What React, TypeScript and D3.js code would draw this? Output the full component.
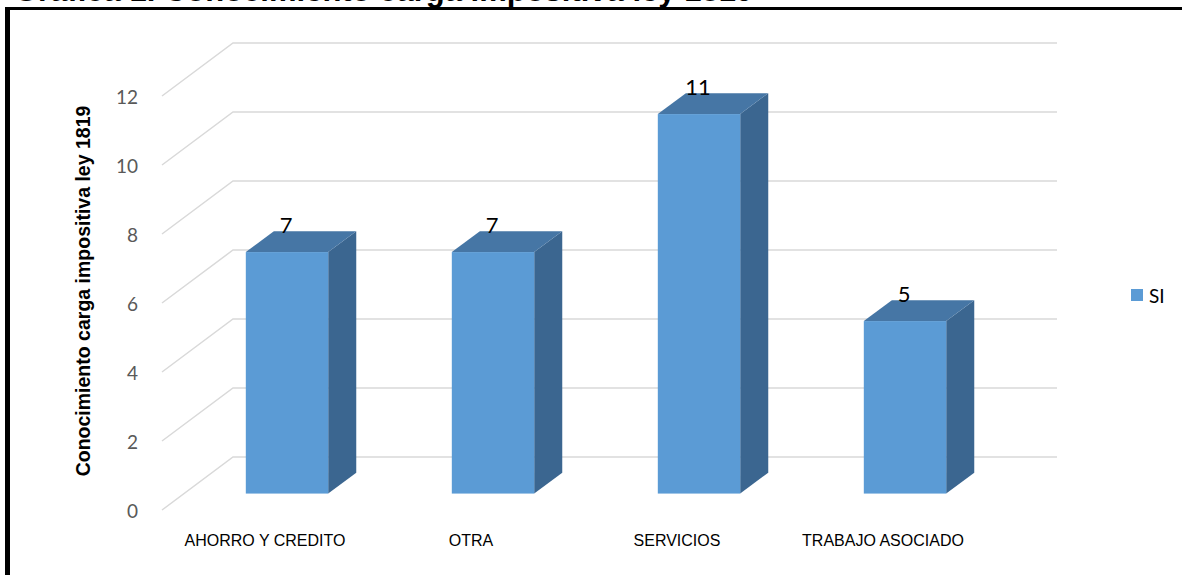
import React from "react";
import * as d3 from "d3";

const categories = ["AHORRO Y CREDITO", "OTRA", "SERVICIOS", "TRABAJO ASOCIADO"];
const siValues = [7, 7, 11, 5];
const yTicks = [0, 2, 4, 6, 8, 10, 12];
const seriesName = "SI";
const yTitle = "Conocimiento carga impositiva ley 1819";
const chartTitle = "Gráfica 1. Conocimiento carga impositiva ley 1819";

const W = 1182;
const H = 575;
const DX = 71;
const DY = -53;
const F1 = 0.31;
const F2 = 0.705;

export default function App() {
  const x = d3
    .scaleBand<string>()
    .domain(categories)
    .range([162, 986])
    .paddingInner(0.6)
    .paddingOuter(0.3);
  const y = d3.scaleLinear().domain([0, 12]).range([510, 96]);
  const bw = x.bandwidth();
  const p = (xx: number, v: number, f: number): [number, number] => [xx + f * DX, y(v) + f * DY];
  const line = d3.line<[number, number]>();
  const x0 = x.range()[0];
  const x1 = x.range()[1];

  return (
    <svg
      width={W}
      height={H}
      style={{ position: "absolute", left: 0, top: 0, background: "#fff" }}
    >
      <rect x={0} y={0} width={W} height={H} fill="#fff" />
      <text
        x={14}
        y={0.5}
        fontFamily="Arial, 'Liberation Sans', sans-serif"
        fontWeight="bold"
        fontSize={31}
        fill="#000"
      >
        {chartTitle}
      </text>
      {/* frame */}
      <rect x={5} y={7} width={5} height={H} fill="#000" />
      <rect x={5} y={7} width={W} height={3} fill="#000" />

      {/* gridlines */}
      {yTicks.map((t) => (
        <path
          key={"g" + t}
          d={line([p(x0, t, 0), p(x0, t, 1), p(x1, t, 1)]) || ""}
          fill="none"
          stroke="#d9d9d9"
          strokeWidth={1.5}
        />
      ))}
      {/* tick labels */}
      {yTicks.map((t) => (
        <text
          key={"t" + t}
          x={138}
          y={y(t)}
          textAnchor="end"
          dominantBaseline="central"
          fontFamily="Lato, 'Open Sans', sans-serif"
          fontSize={19}
          fill="#595959"
        >
          {t}
        </text>
      ))}

      {/* bars */}
      {categories.map((c, i) => {
        const v = siValues[i];
        const bx = x(c)!;
        const [fx, fTop] = p(bx, v, F1);
        const [, fBot] = p(bx, 0, F1);
        const d = F2 - F1;
        const top: [number, number][] = [
          [fx, fTop],
          [fx + bw, fTop],
          [fx + bw + d * DX, fTop + d * DY],
          [fx + d * DX, fTop + d * DY],
        ];
        const side: [number, number][] = [
          [fx + bw, fTop],
          [fx + bw + d * DX, fTop + d * DY],
          [fx + bw + d * DX, fBot + d * DY],
          [fx + bw, fBot],
        ];
        return (
          <g key={c}>
            <path d={(line(side) || "") + "Z"} fill="#3b6690" />
            <path d={(line(top) || "") + "Z"} fill="#4676a5" />
            <rect x={fx} y={fTop} width={bw} height={fBot - fTop} fill="#5b9bd5" />
            <text
              x={fx + bw / 2 - 1}
              y={fTop + d * DY + 2}
              textAnchor="middle"
              fontFamily="Lato, 'Open Sans', sans-serif"
              fontSize={22}
              fill="#000"
            >
              {v}
            </text>
          </g>
        );
      })}

      {/* category labels */}
      {categories.map((c) => (
        <text
          key={"c" + c}
          x={x(c)! + bw / 2}
          y={546}
          textAnchor="middle"
          fontFamily="Arial, 'Liberation Sans', sans-serif"
          fontSize={16}
          fill="#000"
        >
          {c}
        </text>
      ))}

      {/* y title */}
      <text
        transform={`translate(90, 291) rotate(-90)`}
        textAnchor="middle"
        fontFamily="Arial, 'Liberation Sans', sans-serif"
        fontWeight="bold"
        fontSize={19.5}
        fill="#000"
      >
        {yTitle}
      </text>

      {/* legend */}
      <rect x={1131} y={289} width={12} height={12} fill="#5b9bd5" />
      <text
        x={1149}
        y={295}
        dominantBaseline="central"
        fontFamily="Lato, 'Open Sans', sans-serif"
        fontSize={19}
        fill="#000"
      >
        {seriesName}
      </text>
    </svg>
  );
}
